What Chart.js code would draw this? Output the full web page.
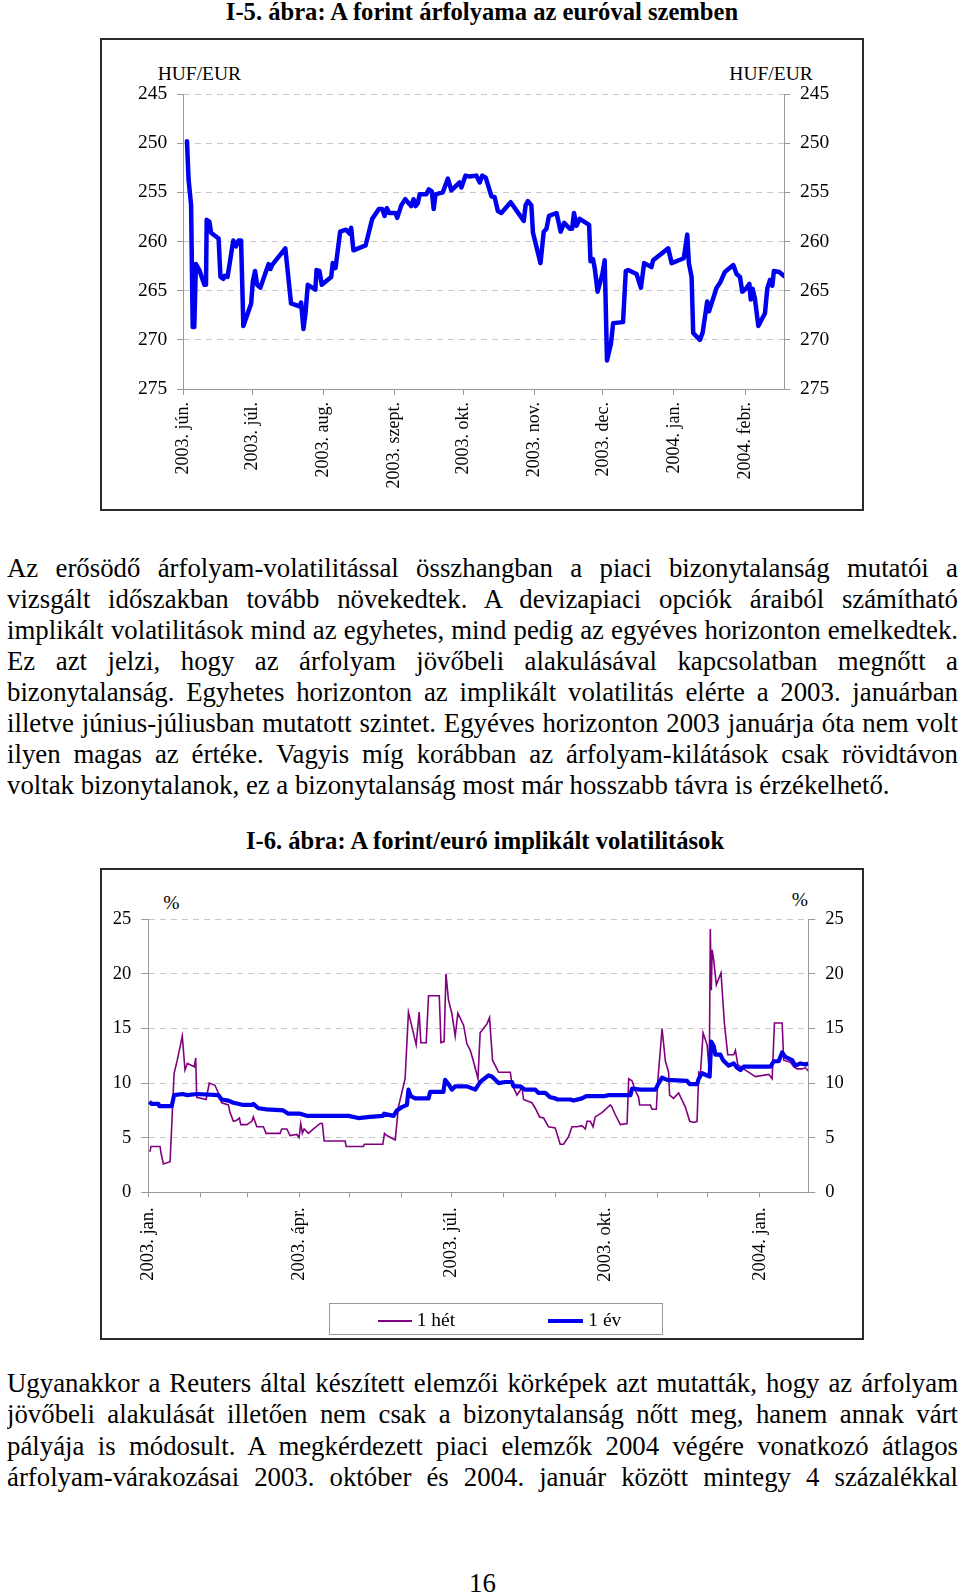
<!DOCTYPE html>
<html><head><meta charset="utf-8">
<script src="https://cdn.jsdelivr.net/npm/chart.js@4.4.1/dist/chart.umd.min.js"></script>
<style>
html,body{margin:0;padding:0;background:#fff;}
body{width:960px;height:1593px;position:relative;overflow:hidden;font-family:"Liberation Serif","Times New Roman",serif;color:#000;}
.abs{position:absolute;white-space:nowrap;}
.title{left:0;text-align:center;font-weight:bold;font-size:24.6px;line-height:30px;}
.frame{position:absolute;left:100px;width:764px;border:2px solid #2a2a2a;box-sizing:border-box;}
.para{position:absolute;left:7px;width:951px;font-size:26.8px;}
.para div{height:30.9px;line-height:30.9px;overflow:hidden;text-align:justify;text-align-last:justify;}
.para.p2 div{height:31.3px;line-height:31.3px;}
.para div.last{text-align-last:left;}
.ax{font-size:19.5px;line-height:20px;}
canvas{position:absolute;}
</style>
</head><body>

<div class="abs title" style="top:-3.5px;width:964px;">I-5. ábra: A forint árfolyama az euróval szemben</div>
<div class="frame" style="top:38px;height:473px;"></div>
<div class="abs ax" style="left:157.7px;top:63.6px;">HUF/EUR</div>
<div class="abs ax" style="left:729.3px;top:63.6px;">HUF/EUR</div>
<canvas id="c1" width="760" height="469" style="left:102px;top:40px;width:760px;height:469px;"></canvas>

<div class="para" style="top:553.4px;">
<div>Az erősödő árfolyam-volatilitással összhangban a piaci bizonytalanság mutatói a</div>
<div>vizsgált időszakban tovább növekedtek. A devizapiaci opciók áraiból számítható</div>
<div>implikált volatilitások mind az egyhetes, mind pedig az egyéves horizonton emelkedtek.</div>
<div>Ez azt jelzi, hogy az árfolyam jövőbeli alakulásával kapcsolatban megnőtt a</div>
<div>bizonytalanság. Egyhetes horizonton az implikált volatilitás elérte a 2003. januárban</div>
<div>illetve június-júliusban mutatott szintet. Egyéves horizonton 2003 januárja óta nem volt</div>
<div>ilyen magas az értéke. Vagyis míg korábban az árfolyam-kilátások csak rövidtávon</div>
<div class="last">voltak bizonytalanok, ez a bizonytalanság most már hosszabb távra is érzékelhető.</div>
</div>

<div class="abs title" style="top:826px;width:970px;">I-6. ábra: A forint/euró implikált volatilitások</div>
<div class="frame" style="top:868px;height:472px;"></div>
<div class="abs ax" style="left:163.3px;top:893px;">%</div>
<div class="abs ax" style="left:791.7px;top:890px;">%</div>
<canvas id="c2" width="760" height="468" style="left:102px;top:870px;width:760px;height:468px;"></canvas>

<div class="abs" style="left:329px;top:1303px;width:334px;height:32px;border:1px solid #999;box-sizing:border-box;"></div>
<div class="abs" style="left:378px;top:1319.5px;width:34px;height:2px;background:#800080;"></div>
<div class="abs ax" style="left:416.7px;top:1310px;">1 hét</div>
<div class="abs" style="left:548px;top:1318.5px;width:35px;height:4px;background:#0000ee;"></div>
<div class="abs ax" style="left:588.3px;top:1310px;">1 év</div>

<div class="para p2" style="top:1368.2px;">
<div>Ugyanakkor a Reuters által készített elemzői körképek azt mutatták, hogy az árfolyam</div>
<div>jövőbeli alakulását illetően nem csak a bizonytalanság nőtt meg, hanem annak várt</div>
<div>pályája is módosult. A megkérdezett piaci elemzők 2004 végére vonatkozó átlagos</div>
<div>árfolyam-várakozásai 2003. október és 2004. január között mintegy 4 százalékkal</div>
</div>

<div class="abs" style="left:0;width:965px;text-align:center;top:1568px;font-size:26.8px;line-height:31px;">16</div>

<script>
// ---- Chart I-5 data: HUF/EUR exchange rate (x = days since 2003-06-01) ----
const rateTickDays = [0, 30, 61, 92, 122, 153, 183, 214, 245];
const rateTickLabels = ['2003. jún.', '2003. júl.', '2003. aug.', '2003. szept.', '2003. okt.', '2003. nov.', '2003. dec.', '2004. jan.', '2004. febr.'];
const rateDays = [1.6,2.3,3.4,4.1,4.8,5.5,7.0,9.2,9.9,10.2,
 11.4,12.1,15.4,16.2,17.5,18.0,19.3,21.8,23.0,24.1,
 25.2,26.2,29.6,30.3,31.3,32.2,33.6,37.2,38.0,38.7,
 44.5,47.0,50.7,51.4,52.4,53.3,54.3,57.6,58.1,59.4,
 60.4,64.5,65.2,66.4,68.4,71.0,72.5,73.2,74.2,79.5,
 82.4,85.3,86.8,87.8,88.8,89.7,92.6,93.3,95.1,96.8,
 99.4,100.4,101.3,102.3,103.1,106.0,107.1,108.4,109.2,110.0,
 113.2,115.4,116.9,120.5,121.3,123.1,124.9,127.8,129.3,130.4,
 131.9,134.4,135.8,137.2,138.7,142.8,148.5,149.3,150.3,151.8,
 152.5,155.8,157.2,158.4,159.5,162.8,164.6,166.1,168.6,169.6,
 170.4,171.5,172.9,177.0,177.6,178.7,179.5,180.7,182.8,183.8,
 184.8,186.5,187.5,191.8,193.0,194.0,197.7,199.6,201.0,204.2,
 204.9,211.5,213.0,218.3,219.8,220.5,221.7,222.4,225.3,226.5,
 228.5,229.3,232.6,234.1,236.2,239.9,241.3,242.8,243.8,245.4,
 246.9,247.5,248.3,249.3,250.8,253.7,254.7,255.9,256.9,257.6,
 259.9,262.0];
const rateValues = [249.8,253.7,256.3,268.7,268.7,262.3,262.9,264.4,264.4,257.8,
 258.0,259.1,259.7,263.6,263.8,263.5,263.6,259.9,260.5,259.9,
 259.9,268.6,266.3,264.1,263.0,264.4,264.7,262.3,262.8,262.4,
 260.7,266.3,266.6,266.2,268.9,267.3,264.4,264.9,262.9,263.0,
 264.4,263.6,262.2,262.7,259.0,258.8,259.2,258.6,260.9,260.4,
 257.7,256.7,256.7,257.4,256.6,257.1,257.1,257.6,256.3,255.7,
 256.4,255.7,256.4,256.1,255.2,255.2,254.7,254.9,256.7,255.2,
 255.0,253.6,254.8,254.0,254.5,253.3,253.4,253.3,254.0,253.3,
 253.5,255.4,255.5,256.9,257.1,256.0,257.9,256.3,255.9,256.3,
 259.1,262.2,259.0,258.7,257.4,257.1,259.0,258.1,258.7,258.7,
 257.1,258.4,257.7,258.3,262.0,261.8,262.8,265.1,263.3,261.9,
 272.1,270.4,268.3,268.2,263.0,262.9,263.3,264.7,262.2,262.6,
 261.9,260.7,262.2,261.7,259.3,262.2,263.6,269.3,270.0,269.3,
 266.1,267.1,264.7,264.2,263.1,262.4,263.3,263.6,265.1,264.8,
 264.3,265.9,264.8,265.8,268.6,267.3,264.8,263.9,264.5,263.0,
 263.1,263.5];

// ---- Chart I-6 data: implied volatilities (x = days since 2003-01-01) ----
const volTickDays = [0, 31, 59, 90, 120, 151, 181, 212, 243, 273, 304, 334, 365];
const volTickLabels = ['2003. jan.', '', '', '2003. ápr.', '', '', '2003. júl.', '', '', '2003. okt.', '', '', '2004. jan.'];
const weekDays = [1.0,1.6,6.0,7.0,7.6,9.0,13.0,15.4,17.3,20.3,
 21.9,23.3,27.5,28.3,28.9,34.5,36.4,39.8,41.8,43.8,
 47.8,48.8,50.8,52.8,54.4,55.2,58.8,61.8,62.7,64.8,
 68.7,70.3,78.7,79.7,82.7,84.6,88.6,90.0,91.0,92.0,
 93.0,95.6,98.6,102.6,103.9,105.0,117.5,118.1,128.4,129.0,
 140.0,141.0,142.4,147.4,149.3,153.3,155.3,159.9,161.7,162.7,
 165.9,167.3,173.7,174.7,176.6,177.7,179.2,181.2,183.2,184.8,
 188.2,190.2,192.2,194.1,196.8,198.1,201.1,202.1,203.7,205.5,
 209.1,216.1,217.1,220.1,223.1,224.0,229.0,231.0,233.6,236.0,
 238.9,242.9,245.9,247.9,250.9,252.9,255.9,258.9,260.9,261.9,
 263.9,265.5,266.8,270.8,275.8,276.8,278.8,281.8,285.8,286.8,
 288.8,290.8,292.7,293.3,299.7,300.7,303.3,304.1,306.7,308.7,
 310.6,311.2,313.6,316.6,320.6,323.2,325.6,327.6,328.6,329.6,
 331.2,333.6,334.9,335.5,336.1,336.6,337.5,339.1,341.9,343.9,
 345.9,349.5,350.5,351.9,355.4,362.4,370.4,372.4,373.8,378.4,
 379.3,383.3,385.3,387.3,390.3,392.3,394.0];
const weekVol = [3.7,4.2,4.2,4.2,3.6,2.6,2.8,10.9,12.1,14.3,
 11.2,11.8,11.5,12.3,8.7,8.5,10.0,9.8,9.1,8.2,
 8.0,7.3,6.5,6.6,6.8,6.2,6.2,6.5,6.9,6.0,
 6.0,5.4,5.4,5.8,5.8,5.2,5.3,5.0,6.3,5.4,
 5.8,5.4,5.8,6.3,6.3,4.7,4.7,4.2,4.2,4.4,
 4.4,5.4,5.2,4.8,7.8,10.4,16.5,13.5,16.5,13.7,
 13.7,18.0,18.0,13.7,13.8,20.0,17.6,16.4,14.3,16.4,
 15.3,13.6,13.0,12.0,10.4,14.6,15.2,15.4,16.0,12.1,
 11.0,11.0,9.9,8.9,9.6,8.5,8.2,7.7,6.9,6.8,
 6.0,5.9,4.4,4.4,5.1,6.0,6.0,6.1,5.8,6.5,
 6.5,6.0,6.9,7.3,8.0,7.8,7.1,6.2,6.3,10.4,
 10.2,9.3,8.7,8.0,8.0,7.6,7.6,10.1,15.0,12.0,
 11.0,8.9,8.6,9.1,7.8,6.5,6.4,6.5,11.0,10.9,
 14.6,13.5,11.0,24.1,18.5,22.2,21.3,19.0,20.1,15.5,
 12.6,12.6,13.0,11.7,11.3,10.6,10.8,10.4,15.5,15.5,
 12.1,11.9,11.5,11.3,11.3,11.4,11.1];
const yearDays = [0.6,2.0,6.0,6.6,14.0,15.4,20.5,23.3,28.9,41.8,
 43.8,47.8,50.8,56.8,61.8,62.7,65.7,70.7,80.6,83.6,
 90.6,94.6,119.5,125.4,132.4,140.0,140.8,146.4,148.4,151.4,
 154.4,155.3,156.7,159.3,167.3,168.3,176.2,177.2,179.2,181.2,
 183.2,190.2,195.2,198.1,203.1,205.1,209.1,213.1,217.1,218.0,
 222.0,225.0,231.0,233.0,237.0,240.0,242.9,244.3,251.9,253.9,
 258.9,261.5,271.8,274.8,287.8,288.8,293.7,302.7,304.7,306.7,
 309.7,321.6,323.2,327.6,328.6,330.6,333.6,335.1,336.0,337.5,
 338.5,341.5,343.1,345.1,346.5,349.5,351.5,353.5,355.4,371.4,
 373.4,376.3,378.4,380.3,384.3,386.3,389.3,392.3,394.0];
const yearVol = [8.3,8.1,8.1,7.9,7.9,8.9,9.0,8.9,9.0,8.9,
 8.5,8.4,8.2,8.0,8.0,8.1,7.7,7.6,7.5,7.2,
 7.2,7.0,7.0,6.8,6.9,7.0,7.2,7.0,7.5,7.8,
 8.0,9.4,8.8,8.6,8.6,9.2,9.2,10.3,9.9,9.4,
 9.7,9.7,9.4,10.1,10.7,10.6,10.0,10.1,10.1,9.7,
 9.7,9.4,9.4,9.1,9.1,8.7,8.6,8.5,8.5,8.4,
 8.6,8.8,8.8,8.9,8.9,9.5,9.4,9.4,10.0,10.5,
 10.3,10.2,9.9,9.9,10.4,10.9,10.7,10.6,13.8,13.4,
 12.6,12.6,12.1,11.8,11.6,11.8,11.4,11.2,11.5,11.5,
 12.0,12.0,12.8,12.4,12.1,11.6,11.8,11.7,11.8];

Chart.defaults.font.family = '"Liberation Serif", "Times New Roman", serif';
Chart.defaults.color = '#000';

const pairs = (xs, ys) => xs.map((x, i) => ({x: x, y: ys[i]}));
const AXIS = '#999';
const GRID = '#c8c8c8';

function xAxis(tickDays, tickLabels, maxDay, height, fontSize, tickLen, pad) {
  return {
    type: 'linear', min: 0, max: maxDay,
    afterBuildTicks: s => { s.ticks = tickDays.map(v => ({value: v})); },
    ticks: { autoSkip: false, minRotation: 90, maxRotation: 90, padding: pad,
      font: {size: fontSize}, color: '#000',
      callback: (v, i) => tickLabels[i] },
    grid: { drawOnChartArea: false, drawTicks: true, tickLength: tickLen, tickColor: AXIS, tickWidth: 1 },
    border: { display: true, color: AXIS, width: 1 },
    afterFit: s => { s.height = height; }
  };
}
function yAxis(pos, min, max, step, width, fontSize, tickLen, pad, drawGrid, hiddenGridValue, reverse) {
  return {
    position: pos, reverse: reverse, min: min, max: max,
    ticks: { stepSize: step, padding: pad, font: {size: fontSize}, color: '#000' },
    grid: { drawOnChartArea: drawGrid, drawTicks: true, tickLength: tickLen, tickColor: AXIS, tickWidth: 1,
      color: c => (c.tick && c.tick.value === hiddenGridValue) ? 'rgba(0,0,0,0)' : GRID },
    border: { display: true, color: AXIS, width: 1, dash: [6, 5] },
    afterFit: s => { s.width = width; }
  };
}

// Chart I-5
new Chart(document.getElementById('c1'), {
  type: 'line',
  data: { datasets: [{
    label: 'HUF/EUR', data: pairs(rateDays, rateValues),
    borderColor: '#0000f0', borderWidth: 4.5, pointRadius: 0, tension: 0,
    borderJoinStyle: 'round', borderCapStyle: 'round', yAxisID: 'y', xAxisID: 'x'
  }]},
  options: {
    responsive: false, animation: false,
    layout: { padding: { top: 54, left: 0, right: 0, bottom: 0 } },
    plugins: { legend: { display: false }, tooltip: { enabled: false } },
    scales: {
      x: xAxis(rateTickDays, rateTickLabels, 262, 120, 18, 6, 7),
      y: yAxis('left', 245, 275, 5, 81.3, 19.5, 6, 10, true, 275, true),
      y2: yAxis('right', 245, 275, 5, 78, 19.5, 6, 10, false, 275, true)
    }
  }
});

// Chart I-6
new Chart(document.getElementById('c2'), {
  type: 'line',
  data: { datasets: [
    { label: '1 hét', data: pairs(weekDays, weekVol), borderColor: '#800080', borderWidth: 1.6,
      pointRadius: 0, tension: 0, order: 2, yAxisID: 'y', xAxisID: 'x' },
    { label: '1 év', data: pairs(yearDays, yearVol), borderColor: '#0000ee', borderWidth: 4.2,
      pointRadius: 0, tension: 0, order: 1, borderJoinStyle: 'round', yAxisID: 'y', xAxisID: 'x' }
  ]},
  options: {
    responsive: false, animation: false,
    layout: { padding: { top: 49.3, left: 0, right: 0, bottom: 0 } },
    plugins: { legend: { display: false }, tooltip: { enabled: false } },
    scales: {
      x: xAxis(volTickDays, volTickLabels, 394, 145.7, 18.5, 5, 10),
      y: yAxis('left', 0, 25, 5, 46.3, 18.5, 7, 10, true, 0, false),
      y2: yAxis('right', 0, 25, 5, 53.7, 18.5, 7, 10, false, 0, false)
    }
  }
});
</script>
</body></html>
